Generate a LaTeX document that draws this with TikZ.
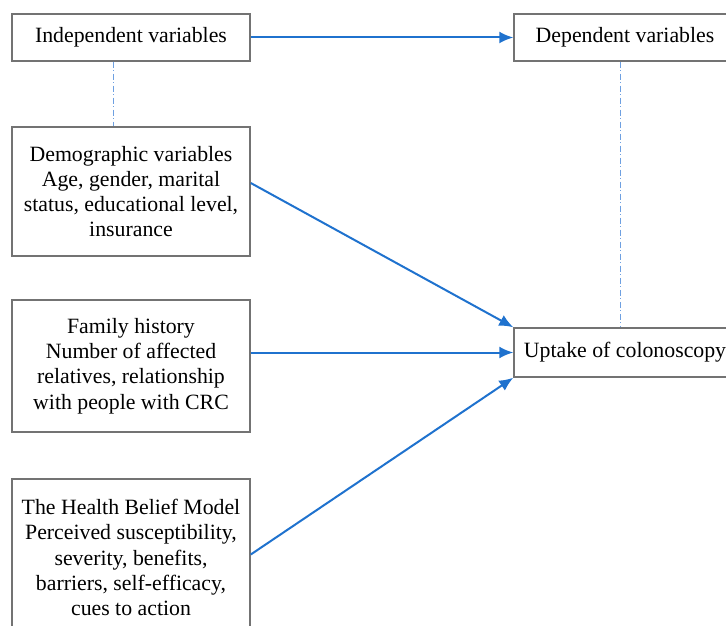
\documentclass[tikz,border=0pt]{standalone}
\usepackage{fontspec}
\setmainfont{Liberation Serif}
\usepackage{tikz}
\usetikzlibrary{calc,arrows.meta}
\definecolor{linkblue}{RGB}{31,114,206}
\definecolor{guideblue}{RGB}{110,160,225}

\begin{document}
\begin{tikzpicture}[>=Latex,x=0.5pt,y=-0.5pt,
  varbox/.style={draw=black!55,line width=0.75pt,fill=white,align=center,inner sep=0pt,
    font=\fontsize{10.9}{12.6}\selectfont},
  link/.style={->,linkblue,line width=1pt,-{Latex[length=7pt,width=6pt]}},
  guide/.style={guideblue,line width=0.45pt,dash pattern=on 3pt off 1.2pt on 0.6pt off 1.2pt}]
  \useasboundingbox (0,0) rectangle (726,625);
  % Headings
  \node[varbox,minimum width=119pt,minimum height=23.5pt] (ind) at (131,37.5) {Independent variables};
  \node[varbox,minimum width=111pt,minimum height=23.5pt] (dep) at (625,37.5) {Dependent variables};
  % Independent variable groups
  \node[varbox,minimum width=119pt,minimum height=64.5pt] (demo) at (131,191.5)
    {Demographic variables\\Age, gender, marital\\status, educational level,\\insurance};
  \node[varbox,minimum width=119pt,minimum height=66pt] (fam) at (131,366)
    {Family history\\Number of affected\\relatives, relationship\\with people with CRC};
  \node[varbox,minimum width=119pt,minimum height=78.5pt] (hbm) at (131,557.5)
    {The Health Belief Model\\Perceived susceptibility,\\severity, benefits,\\barriers, self-efficacy,\\cues to action};
  % Outcome
  \node[varbox,minimum width=111pt,minimum height=24.5pt] (upt) at (625,352.5) {Uptake of colonoscopy};
  % Guide lines
  \draw[guide] ([xshift=-9pt]ind.south) -- ([xshift=-9pt]demo.north);
  \draw[guide] ([xshift=-2.5pt]dep.south) -- ([xshift=-2.5pt]upt.north);
  % Arrows
  \draw[link] (ind.east) -- (dep.west);
  \draw[link] ([yshift=4.25pt]demo.east) -- (upt.north west);
  \draw[link] (upt.west -| fam.east) -- (upt.west);
  \draw[link] ([yshift=1.5pt]hbm.east) -- (upt.south west);
\end{tikzpicture}
\end{document}
